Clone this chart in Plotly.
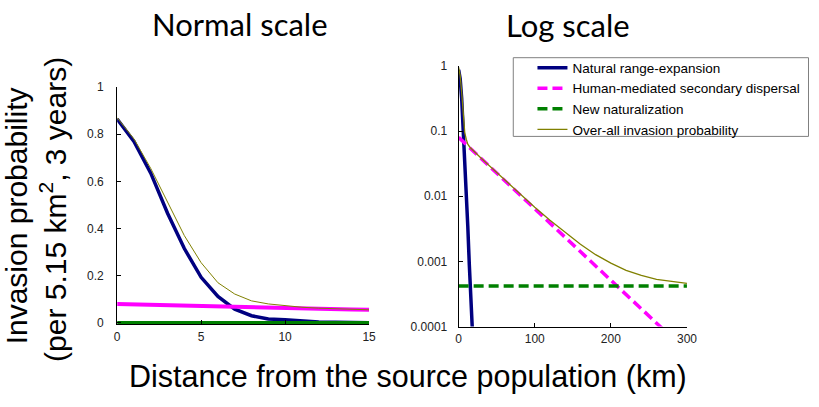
import plotly.graph_objects as go

W, H = 819, 407

# ---------------- data ----------------
# Left panel: normal scale, distance 0-15 km
near_km = [0, 1, 2, 3, 4, 5, 6, 7, 8, 9, 10, 11, 12, 13, 14, 15]
natural_near = [0.865, 0.77, 0.635, 0.465, 0.315, 0.193, 0.112, 0.058, 0.03, 0.016,
                0.013, 0.007, 0.0035, 0.0018, 0.0009, 0.0005]
human_near = [0.080, 0.078, 0.076, 0.074, 0.073, 0.071, 0.069, 0.067, 0.065, 0.064,
              0.062, 0.061, 0.059, 0.058, 0.056, 0.055]
newnat_near = [0.00042] * 16
overall_near = [0.87, 0.78, 0.655, 0.51, 0.37, 0.255, 0.17, 0.122, 0.093, 0.08,
                0.072, 0.066, 0.062, 0.059, 0.057, 0.055]

# Right panel: log scale, distance 0-300 km
natural_log_km = [0, 2, 4, 6, 8, 10, 12, 14, 16, 18]
natural_log = [0.87, 0.635, 0.315, 0.112, 0.03, 0.013, 0.0035, 0.0009, 0.00028, 0.00009]
human_log_km = [0, 50, 100, 150, 200, 250, 270]
human_log = [0.08, 0.0227, 0.0064, 0.0018, 0.00052, 0.000146, 0.000088]
newnat_log_km = [0, 300]
newnat_log = [0.00042, 0.00042]
overall_log_km = [0, 2, 4, 6, 8, 10, 12, 15, 20, 30, 40, 50, 60, 80, 100, 120, 140,
                  160, 180, 200, 220, 240, 260, 280, 300]
overall_log = [0.95, 0.71, 0.39, 0.18, 0.095, 0.075, 0.063, 0.056, 0.0487, 0.0379,
               0.0296, 0.0231, 0.018, 0.0111, 0.0068, 0.0043, 0.00276, 0.00183,
               0.00127, 0.00094, 0.00073, 0.00061, 0.00053, 0.00049, 0.00046]

series_names = ["Natural range-expansion", "Human-mediated secondary dispersal",
                "New naturalization", "Over-all invasion probability"]
left_ticks = [0, 5, 10, 15]
log_tickvals = [0.0001, 0.001, 0.01, 0.1, 1]
log_ticktext = ["0.0001", "0.001", "0.01", "0.1", "1"]

# ---------------- styles ----------------
NAVY = "#000080"
MAG = "#FF00FF"
GREEN = "#008000"
OLIVE = "#808000"
ARIAL = "Liberation Sans, Arial, sans-serif"
CAL = "Lato, Carlito, Calibri, sans-serif"

def px_x(p):
    return p / W

def px_y(p):
    return 1 - p / H

fig = go.Figure()

# left panel traces
fig.add_trace(go.Scatter(x=near_km, y=natural_near, mode="lines", xaxis="x", yaxis="y",
                         line=dict(color=NAVY, width=3.5), showlegend=False))
fig.add_trace(go.Scatter(x=near_km, y=human_near, mode="lines", xaxis="x", yaxis="y",
                         line=dict(color=MAG, width=4), showlegend=False))
fig.add_trace(go.Scatter(x=near_km, y=newnat_near, mode="lines", xaxis="x", yaxis="y",
                         line=dict(color=GREEN, width=3.5), showlegend=False))
fig.add_trace(go.Scatter(x=near_km, y=overall_near, mode="lines", xaxis="x", yaxis="y",
                         line=dict(color=OLIVE, width=1), showlegend=False))

# right panel traces
fig.add_trace(go.Scatter(x=natural_log_km, y=natural_log, mode="lines", xaxis="x2", yaxis="y2",
                         name=series_names[0], line=dict(color=NAVY, width=3.5)))
fig.add_trace(go.Scatter(x=human_log_km, y=human_log, mode="lines", xaxis="x2", yaxis="y2",
                         name=series_names[1], line=dict(color=MAG, width=3.5, dash="10px,5px")))
fig.add_trace(go.Scatter(x=newnat_log_km, y=newnat_log, mode="lines", xaxis="x2", yaxis="y2",
                         name=series_names[2], line=dict(color=GREEN, width=3.5, dash="10px,5px")))
fig.add_trace(go.Scatter(x=overall_log_km, y=overall_log, mode="lines", xaxis="x2", yaxis="y2",
                         name=series_names[3], line=dict(color=OLIVE, width=1.3)))

axis_common = dict(showline=True, linecolor="black", linewidth=1, showgrid=False,
                   zeroline=False, ticks="inside", ticklen=4, tickcolor="black",
                   tickfont=dict(family=ARIAL, size=12, color="#222222"))

fig.update_layout(
    width=W, height=H,
    margin=dict(l=0, r=0, t=0, b=0),
    paper_bgcolor="white", plot_bgcolor="white",
    xaxis=dict(domain=[px_x(116), px_x(372)], range=[0, 15], tickvals=left_ticks,
               anchor="y", ticklabelstandoff=1, **axis_common),
    yaxis=dict(domain=[px_y(328.5), px_y(83)], range=[-0.006, 1], dtick=0.2,
               anchor="x", ticklabelstandoff=10, **axis_common),
    xaxis2=dict(domain=[px_x(463), px_x(695)], range=[0, 300], dtick=100,
                anchor="y2", ticklabelstandoff=1, **axis_common),
    yaxis2=dict(domain=[px_y(331), px_y(61)], type="log", range=[-4, 0],
                tickvals=log_tickvals, ticktext=log_ticktext,
                anchor="x2", ticklabelstandoff=8, **axis_common),
    legend=dict(x=px_x(538), y=px_y(47), xanchor="left", yanchor="top",
                bgcolor="rgba(0,0,0,0)", borderwidth=0,
                font=dict(family=ARIAL, size=13.5, color="black"),
                tracegroupgap=0),
    showlegend=True,
    shapes=[dict(type="rect", xref="paper", yref="paper",
                 x0=px_x(518.5), x1=px_x(818.5), y0=px_y(134), y1=px_y(52.5),
                 line=dict(color="#808080", width=1), fillcolor="white", layer="above")],
)

annotations = [
    dict(text="Normal scale", x=px_x(241), y=px_y(18), font=dict(family=CAL, size=31, color="black")),
    dict(text="Log scale", x=px_x(574), y=px_y(19), font=dict(family=CAL, size=31, color="black")),
    dict(text="Distance from the source population (km)", x=px_x(412), y=px_y(383),
         font=dict(family=ARIAL, size=30.5, color="black")),
    dict(text="Invasion probability", x=px_x(14), y=px_y(216), textangle=-90,
         font=dict(family=ARIAL, size=30, color="black")),
    dict(text="(per 5.15 km<sup>2</sup>, 3 years)", x=px_x(51), y=px_y(210), textangle=-90,
         font=dict(family=ARIAL, size=30, color="black")),
]
for a in annotations:
    a.update(xref="paper", yref="paper", xanchor="center", yanchor="middle", showarrow=False)
fig.update_layout(annotations=annotations)

fig.write_html("out.html", config={"displayModeBar": False},
               post_script="document.body.style.margin='0';")
